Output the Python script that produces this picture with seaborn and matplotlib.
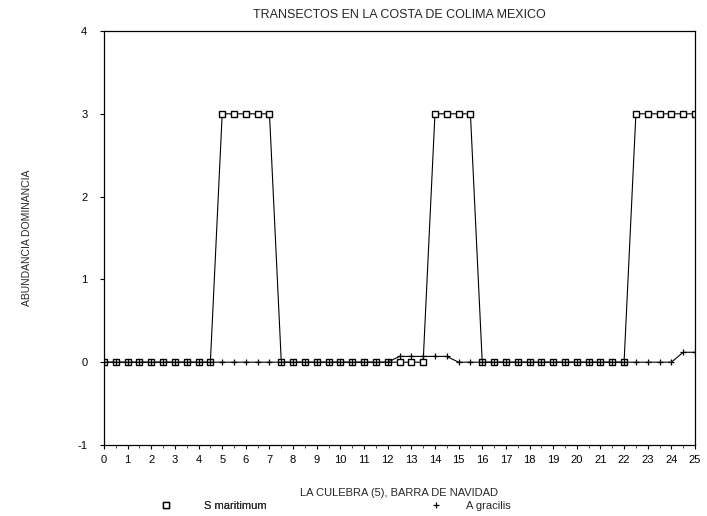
import matplotlib
matplotlib.use("Agg")
import matplotlib.pyplot as plt
from matplotlib.lines import Line2D
from matplotlib.ticker import MultipleLocator
import pandas as pd
import seaborn as sns

# distancia a lo largo del transecto (m)
DISTANCIA = [0, 0.5, 1, 1.5, 2, 2.5, 3, 3.5, 4, 4.5,
             5, 5.5, 6, 6.5, 7, 7.5, 8, 8.5, 9, 9.5,
             10, 10.5, 11, 11.5, 12, 12.5, 13, 13.5, 14, 14.5,
             15, 15.5, 16, 16.5, 17, 17.5, 18, 18.5, 19, 19.5,
             20, 20.5, 21, 21.5, 22, 22.5, 23, 23.5, 24, 24.5, 25]
S_MARITIMUM = [0, 0, 0, 0, 0, 0, 0, 0, 0, 0,
               3, 3, 3, 3, 3, 0, 0, 0, 0, 0,
               0, 0, 0, 0, 0, 0, 0, 0, 3, 3,
               3, 3, 0, 0, 0, 0, 0, 0, 0, 0,
               0, 0, 0, 0, 0, 3, 3, 3, 3, 3, 3]
A_GRACILIS = [0, 0, 0, 0, 0, 0, 0, 0, 0, 0,
              0, 0, 0, 0, 0, 0, 0, 0, 0, 0,
              0, 0, 0, 0, 0, 0.07, 0.07, 0.07, 0.07, 0.07,
              0, 0, 0, 0, 0, 0, 0, 0, 0, 0,
              0, 0, 0, 0, 0, 0, 0, 0, 0, 0.12, 0.12]
SERIES = ["S maritimum", "A gracilis"]

TITLE = "TRANSECTOS EN LA COSTA DE COLIMA MEXICO"
XLABEL = "LA CULEBRA (5), BARRA DE NAVIDAD"
YLABEL = "ABUNDANCIA DOMINANCIA"

sns.set_style("ticks")
plt.rcParams["font.family"] = ["Liberation Sans", "DejaVu Sans"]
plt.rcParams["axes.unicode_minus"] = False

df = pd.DataFrame({"x": DISTANCIA, "S": S_MARITIMUM, "A": A_GRACILIS})

fig = plt.figure(figsize=(7.07, 5.16), dpi=100)
ax = fig.add_axes([104 / 707, 1 - 445 / 516, (695 - 104) / 707, (445 - 31) / 516])

sns.lineplot(data=df, x="x", y="S", ax=ax, estimator=None, color="black",
             linewidth=0.8, marker="s", markersize=5,
             markerfacecolor="white", markeredgecolor="black",
             markeredgewidth=1.0)
sns.lineplot(data=df, x="x", y="A", ax=ax, estimator=None, color="black",
             linewidth=0.8, marker="+", markersize=5,
             markeredgecolor="black", markeredgewidth=0.9)

ax.set_xlim(0, 25)
ax.set_ylim(-1, 4)
ax.xaxis.set_major_locator(MultipleLocator(1))
ax.xaxis.set_minor_locator(MultipleLocator(0.5))
ax.yaxis.set_major_locator(MultipleLocator(1))
for sp in ax.spines.values():
    sp.set_visible(True)
    sp.set_color("black")
    sp.set_linewidth(0.9)
ax.tick_params(axis="both", which="major", direction="out", length=3,
               width=0.8, colors="black", labelsize=8)
ax.tick_params(axis="x", which="minor", direction="out", length=2, width=0.6)
ax.tick_params(axis="x", which="major", pad=4)
ax.tick_params(axis="y", which="major", pad=9)

ax.set_title(TITLE, fontsize=9, pad=9)
ax.set_xlabel(XLABEL, fontsize=8, labelpad=17)
ax.set_ylabel(YLABEL, fontsize=7.5, labelpad=33)

h_s = Line2D([], [], color="black", linestyle="none", marker="s",
             markersize=4.5, markerfacecolor="white", markeredgewidth=1.0)
h_a = Line2D([], [], color="black", linestyle="none", marker="+",
             markersize=5, markeredgewidth=0.9)
leg1 = fig.legend([h_s], [SERIES[0]], loc="center left",
                  bbox_to_anchor=(150 / 707, 1 - 506 / 516), frameon=False,
                  fontsize=8, handlelength=1.0, handletextpad=3.0)
fig.add_artist(leg1)
fig.legend([h_a], [SERIES[1]], loc="center left",
           bbox_to_anchor=(420 / 707, 1 - 506 / 516), frameon=False,
           fontsize=8, handlelength=1.0, handletextpad=2.2)

fig.savefig("out.png", dpi=100)
